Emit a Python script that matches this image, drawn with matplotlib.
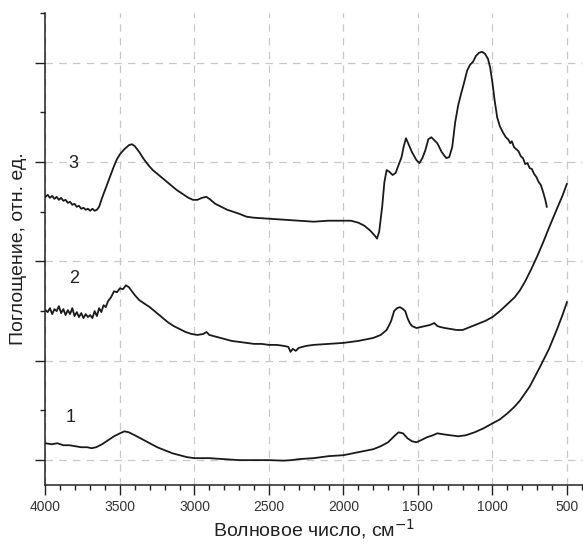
# IR spectra, three samples
import matplotlib.pyplot as plt
from matplotlib.ticker import MultipleLocator

plt.rcParams['font.family'] = ['Liberation Sans', 'DejaVu Sans']

# =========================
# Curve 1
# =========================
wn1 = [4000, 3960, 3920, 3880, 3840, 3800, 3760, 3720, 3690, 3660, 3620, 3580,
       3540, 3500, 3470, 3440, 3400, 3350, 3300, 3250, 3200, 3150, 3100, 3050,
       3000, 2950, 2900, 2800, 2700, 2600, 2500, 2400, 2350, 2300, 2200, 2100,
       2000, 1900, 1800, 1750, 1700, 1660, 1630, 1600, 1570, 1540, 1510, 1480,
       1440, 1400, 1370, 1330, 1280, 1230, 1180, 1120, 1060, 1000, 950, 900,
       850, 815, 750, 680, 620, 568, 530, 500]
ab1 = [0.17, 0.16, 0.17, 0.15, 0.15, 0.14, 0.13, 0.13, 0.12, 0.13, 0.16, 0.20,
       0.24, 0.27, 0.29, 0.28, 0.25, 0.21, 0.17, 0.13, 0.10, 0.07, 0.05, 0.03,
       0.02, 0.02, 0.02, 0.01, 0.0, 0.0, 0.0, -0.005, 0.0, 0.01, 0.02, 0.04,
       0.05, 0.08, 0.11, 0.14, 0.18, 0.24, 0.28, 0.27, 0.22, 0.19, 0.18, 0.20,
       0.23, 0.25, 0.27, 0.26, 0.25, 0.24, 0.25, 0.28, 0.32, 0.37, 0.41, 0.47,
       0.54, 0.60, 0.74, 0.94, 1.12, 1.31, 1.46, 1.59]

# =========================
# Curve 2
# =========================
wn2 = [4000, 3985, 3970, 3955, 3940, 3925, 3910, 3895, 3880, 3865, 3850, 3835,
       3820, 3805, 3790, 3775, 3760, 3745, 3730, 3715, 3700, 3685, 3670, 3655,
       3640, 3625, 3610, 3595, 3580, 3560, 3540, 3520, 3500, 3480, 3460, 3440,
       3420, 3400, 3370, 3340, 3300, 3260, 3220, 3180, 3140, 3100, 3060, 3020,
       2980, 2940, 2920, 2900, 2850, 2800, 2750, 2700, 2650, 2600, 2550, 2500,
       2450, 2400, 2370, 2355, 2340, 2320, 2300, 2250, 2200, 2100, 2000, 1900,
       1800, 1750, 1710, 1680, 1660, 1640, 1620, 1600, 1585, 1570, 1555, 1540,
       1510, 1480, 1450, 1420, 1390, 1370, 1350, 1320, 1280, 1240, 1200, 1150,
       1100, 1050, 1000, 950, 900, 850, 815, 780, 740, 700, 660, 620, 570, 530, 500]
ab2 = [1.51, 1.49, 1.53, 1.47, 1.52, 1.50, 1.55, 1.48, 1.52, 1.46, 1.51, 1.47,
       1.53, 1.45, 1.49, 1.44, 1.48, 1.43, 1.47, 1.44, 1.46, 1.43, 1.50, 1.45,
       1.53, 1.49, 1.56, 1.54, 1.60, 1.64, 1.70, 1.69, 1.73, 1.72, 1.76, 1.74,
       1.70, 1.66, 1.61, 1.58, 1.54, 1.49, 1.44, 1.39, 1.35, 1.32, 1.29, 1.27,
       1.26, 1.27, 1.29, 1.26, 1.24, 1.22, 1.20, 1.19, 1.18, 1.17, 1.17, 1.16,
       1.16, 1.15, 1.14, 1.09, 1.12, 1.10, 1.13, 1.15, 1.16, 1.17, 1.18, 1.20,
       1.23, 1.26, 1.31, 1.40, 1.50, 1.53, 1.54, 1.52, 1.50, 1.43, 1.38, 1.35,
       1.33, 1.34, 1.35, 1.36, 1.38, 1.35, 1.34, 1.33, 1.32, 1.31, 1.31, 1.34,
       1.37, 1.40, 1.44, 1.50, 1.57, 1.64, 1.71, 1.80, 1.92, 2.05, 2.19, 2.34,
       2.52, 2.66, 2.78]

# =========================
# Curve 3
# =========================
wn3 = [4000, 3985, 3970, 3955, 3940, 3925, 3910, 3895, 3880, 3865, 3850, 3835,
       3820, 3805, 3790, 3775, 3760, 3745, 3730, 3715, 3700, 3685, 3670, 3655,
       3640, 3620, 3600, 3580, 3560, 3540, 3520, 3500, 3470, 3440, 3420, 3400,
       3370, 3340, 3310, 3280, 3240, 3200, 3160, 3120, 3080, 3040, 3010, 2980,
       2950, 2920, 2900, 2860, 2820, 2780, 2740, 2700, 2650, 2600, 2500, 2400,
       2300, 2200, 2100, 2000, 1950, 1900, 1860, 1820, 1790, 1775, 1760, 1740,
       1725, 1710, 1690, 1670, 1650, 1630, 1610, 1595, 1580, 1560, 1540, 1510,
       1490, 1470, 1450, 1430, 1410, 1390, 1370, 1340, 1310, 1290, 1270, 1250,
       1230, 1210, 1190, 1170, 1150, 1130, 1110, 1090, 1070, 1050, 1030, 1015,
       1000, 985, 968, 950, 930, 910, 895, 880, 870, 855, 840, 825, 810, 795,
       780, 765, 750, 735, 720, 705, 690, 675, 660, 645, 635]
ab3 = [2.65, 2.67, 2.64, 2.66, 2.63, 2.65, 2.62, 2.64, 2.61, 2.62, 2.59, 2.60,
       2.57, 2.58, 2.55, 2.56, 2.53, 2.54, 2.52, 2.53, 2.51, 2.53, 2.51, 2.52,
       2.55, 2.64, 2.72, 2.80, 2.88, 2.96, 3.03, 3.08, 3.13, 3.17, 3.18, 3.16,
       3.10, 3.03, 2.97, 2.92, 2.87, 2.82, 2.77, 2.72, 2.68, 2.64, 2.62, 2.62,
       2.64, 2.65, 2.63, 2.58, 2.55, 2.52, 2.50, 2.48, 2.45, 2.44, 2.43, 2.42,
       2.41, 2.40, 2.41, 2.41, 2.41, 2.39, 2.36, 2.31, 2.26, 2.23, 2.30, 2.55,
       2.80, 2.92, 2.90, 2.87, 2.89, 2.97, 3.05, 3.16, 3.24, 3.17, 3.10, 3.02,
       2.99, 3.04, 3.12, 3.23, 3.25, 3.22, 3.19, 3.10, 3.04, 3.05, 3.15, 3.40,
       3.57, 3.69, 3.80, 3.92, 3.98, 4.01, 4.07, 4.10, 4.11, 4.09, 4.04, 3.95,
       3.80, 3.62, 3.45, 3.36, 3.30, 3.25, 3.23, 3.19, 3.21, 3.15, 3.13, 3.11,
       3.06, 3.04, 2.98, 2.99, 2.94, 2.93, 2.88, 2.85, 2.80, 2.77, 2.70, 2.62, 2.55]

labels = ["1", "2", "3"]
label_wn = [3830, 3810, 3810]
label_y = [0.43, 1.83, 2.99]

# =========================
# Plot
# =========================
fig = plt.figure(figsize=(5.83, 5.44), dpi=100)
ax = fig.add_axes([0.078, 0.1085, 0.922, 0.8675])

for wn, ab in [(wn1, ab1), (wn2, ab2), (wn3, ab3)]:
    ax.plot(wn, ab, color='#1a1a1a', linewidth=1.3)

for t, x, y in zip(labels, label_wn, label_y):
    ax.text(x, y, t, fontsize=13, color='#222222', ha='center', va='center')

ax.set_xlim(4000, 392)
ax.set_ylim(-0.25, 4.5)

ax.xaxis.set_major_locator(MultipleLocator(500))
ax.xaxis.set_minor_locator(MultipleLocator(100))
ax.yaxis.set_major_locator(MultipleLocator(1))
ax.yaxis.set_minor_locator(MultipleLocator(0.5))
ax.set_yticklabels([])

ax.tick_params(which='major', direction='out', length=7, width=1, color='#222222')
ax.tick_params(which='minor', direction='out', length=3.5, width=1, color='#222222')
ax.tick_params(axis='x', labelsize=10, labelcolor='#333333', pad=4)

ax.grid(True, which='major', linestyle=(0, (6, 5)), color='#c8c8c8', linewidth=0.9)
ax.set_axisbelow(True)

for s in ['top', 'right']:
    ax.spines[s].set_visible(False)
for s in ['left', 'bottom']:
    ax.spines[s].set_linewidth(1.1)
    ax.spines[s].set_color('#222222')

ax.set_xlabel("Волновое число, см$^{-1}$", fontsize=14, color='#222222', labelpad=2)
ax.set_ylabel("Поглощение, отн. ед.", fontsize=14, color='#222222', labelpad=3)

fig.savefig("out.png", dpi=100)
